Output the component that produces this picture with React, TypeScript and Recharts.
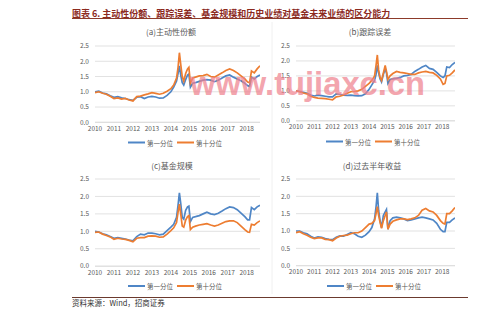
import React from 'react';
import { LineChart, Line, XAxis, YAxis, CartesianGrid } from 'recharts';

const dates = [
  2010.0, 2010.2, 2010.4, 2010.6, 2010.8, 2011.0, 2011.2, 2011.4, 2011.6, 2011.8,
  2012.0, 2012.2, 2012.4, 2012.6, 2012.8, 2013.0, 2013.2, 2013.4, 2013.6, 2013.8,
  2014.0, 2014.15, 2014.3, 2014.38, 2014.45, 2014.52, 2014.6, 2014.68, 2014.78, 2014.88,
  2014.95, 2015.03, 2015.15, 2015.3, 2015.5, 2015.7, 2015.9, 2016.1, 2016.3, 2016.5,
  2016.7, 2016.9, 2017.1, 2017.3, 2017.5, 2017.7, 2017.9, 2018.05, 2018.15, 2018.25,
  2018.4, 2018.55, 2018.7,
];

const aFirst = [
  1.0, 1.02, 0.96, 0.93, 0.87, 0.82, 0.84, 0.8, 0.78, 0.74,
  0.72, 0.82, 0.84, 0.78, 0.83, 0.85, 0.83, 0.79, 0.8, 0.88,
  1.0, 1.15, 1.35, 1.6, 1.85, 1.55, 1.3, 1.22, 1.4, 1.55,
  1.58, 1.15, 1.28, 1.3, 1.34, 1.38, 1.4, 1.38, 1.33, 1.38,
  1.45, 1.52, 1.55, 1.48, 1.42, 1.36, 1.28, 1.2, 1.18, 1.48,
  1.42, 1.5, 1.55,
];
const aTenth = [
  0.97, 1.0, 0.95, 0.92, 0.85, 0.78, 0.8, 0.76, 0.78, 0.73,
  0.7, 0.84, 0.86, 0.9, 0.93, 0.97, 0.95, 0.92, 0.95, 1.02,
  1.1, 1.22, 1.45, 1.8, 2.28, 1.9, 1.5, 1.35, 1.6, 1.75,
  1.8, 1.28, 1.45, 1.48, 1.52, 1.53, 1.57, 1.5, 1.48, 1.55,
  1.62, 1.7, 1.75, 1.7, 1.62, 1.52, 1.42, 1.32, 1.3, 1.68,
  1.62, 1.75, 1.85,
];
const bFirst = [
  1.0, 0.98, 0.95, 0.92, 0.86, 0.83, 0.86, 0.84, 0.82, 0.8,
  0.8, 0.9, 0.88, 0.86, 0.85, 0.86, 0.84, 0.83, 0.84, 0.9,
  1.05, 1.2, 1.35, 1.55, 1.85, 1.6, 1.4, 1.3, 1.55, 1.75,
  1.6, 1.25, 1.38, 1.4, 1.42, 1.45, 1.5, 1.52, 1.55, 1.65,
  1.72, 1.8, 1.85, 1.75, 1.72, 1.62, 1.5, 1.45, 1.5, 1.8,
  1.78, 1.88, 1.95,
];
const bTenth = [
  1.0, 0.97, 0.93, 0.9, 0.82, 0.78, 0.76, 0.75, 0.74, 0.72,
  0.7, 0.8, 0.82, 0.86, 0.92, 0.97, 0.98, 1.0, 1.05, 1.15,
  1.25, 1.35, 1.5, 1.85, 2.2, 1.7, 1.45, 1.35, 1.6, 1.85,
  1.65, 1.38, 1.5, 1.58, 1.65, 1.62, 1.6, 1.58, 1.55, 1.55,
  1.6, 1.63, 1.65, 1.62, 1.6, 1.52, 1.4, 1.22, 1.25, 1.5,
  1.52, 1.6, 1.7,
];
const cFirst = [
  1.0, 0.98, 0.93, 0.9, 0.85, 0.8, 0.82, 0.8, 0.78, 0.75,
  0.73, 0.85, 0.92, 0.9, 0.95, 0.95, 0.93, 0.9, 0.92, 1.02,
  1.12, 1.2, 1.4, 1.75, 2.1, 1.8, 1.4, 1.35, 1.6, 1.7,
  1.72, 1.28, 1.4, 1.42, 1.45, 1.5, 1.55, 1.5, 1.48, 1.52,
  1.58, 1.65, 1.7, 1.68, 1.62, 1.52, 1.42, 1.33, 1.33, 1.68,
  1.62, 1.7, 1.75,
];
const cTenth = [
  0.97, 0.98, 0.92, 0.88, 0.84, 0.77, 0.8, 0.78, 0.77, 0.74,
  0.7, 0.8, 0.82, 0.82, 0.86, 0.87, 0.86, 0.83, 0.84, 0.92,
  1.02, 1.1, 1.25, 1.55, 1.78, 1.5, 1.15, 1.12, 1.32, 1.42,
  1.45, 1.05, 1.12, 1.15, 1.18, 1.2, 1.22, 1.18, 1.15, 1.18,
  1.23, 1.28, 1.3, 1.3, 1.25, 1.15, 1.05, 0.98, 0.97, 1.2,
  1.18, 1.25, 1.3,
];
const dFirst = [
  1.0, 1.0, 0.95, 0.92, 0.85, 0.8, 0.83, 0.82, 0.78, 0.76,
  0.75, 0.82, 0.86, 0.85, 0.9, 0.95, 0.92, 0.85, 0.82, 0.88,
  0.98, 1.1, 1.35, 1.7, 2.1, 1.6, 1.3, 1.1, 1.45, 1.55,
  1.62, 1.05, 1.3, 1.38, 1.4, 1.38, 1.35, 1.3, 1.32, 1.35,
  1.38, 1.4, 1.38, 1.35, 1.32, 1.22, 1.05, 0.98, 0.98, 1.25,
  1.25, 1.32, 1.38,
];
const dTenth = [
  0.95, 0.98, 0.92, 0.88, 0.82, 0.78, 0.8, 0.8, 0.76, 0.75,
  0.72, 0.8, 0.85, 0.87, 0.88, 0.92, 0.95, 0.95, 1.0, 1.1,
  1.2, 1.22, 1.3, 1.5, 1.7, 1.45, 1.25, 1.08, 1.3, 1.45,
  1.55, 1.05, 1.2, 1.28, 1.32, 1.35, 1.35, 1.33, 1.35, 1.38,
  1.45, 1.6, 1.65, 1.58, 1.55, 1.45, 1.3, 1.22, 1.2, 1.5,
  1.5, 1.58, 1.68,
];

const xTicks = [2010, 2011, 2012, 2013, 2014, 2015, 2016, 2017, 2018];
const yTicks = [0, 0.5, 1, 1.5, 2, 2.5];
const seriesNames = ['第一分位', '第十分位'];
const panelTitles = ['(a)主动性份额', '(b)跟踪误差', '(c)基金规模', '(d)过去半年收益'];
const headerText = '图表 6.  主动性份额、跟踪误差、基金规模和历史业绩对基金未来业绩的区分能力';
const sourceText = '资料来源：Wind，招商证券';
const watermarkText = 'www.tujiaxc.cn';

const BLUE = '#4f86c6';
const ORANGE = '#ed7d31';
const GRID = '#d9d9d9';
const TXT = '#595959';
const FONT = '"Noto Sans CJK SC", "Noto Sans", sans-serif';

type PanelProps = {
  px0: number; py0: number; px1: number; py1: number;
  first: number[]; tenth: number[];
};

function Panel({ px0, py0, px1, py1, first, tenth }: PanelProps) {
  const ml = 40, mt = 5, mr = 5, xh = 16;
  const width = px1 - px0 + ml + mr;
  const height = py1 - py0 + mt + xh;
  const data = dates.map((t, i) => ({ t, first: first[i], tenth: tenth[i] }));
  return (
    <div style={{ position: 'absolute', left: px0 - ml, top: py0 - mt, width, height }}>
      <LineChart width={width} height={height} data={data}
        margin={{ top: mt, right: mr, left: 0, bottom: 0 }}>
        <CartesianGrid vertical={false} stroke={GRID} strokeWidth={0.8} />
        <XAxis type="number" dataKey="t" domain={[2010, 2018.7]} ticks={xTicks}
          allowDataOverflow height={xh} tickLine={false} tickSize={0} tickMargin={4}
          axisLine={{ stroke: GRID, strokeWidth: 0.8 }} interval={0}
          tick={{ fontSize: 6.5, fill: TXT, fontFamily: FONT }} />
        <YAxis type="number" domain={[0, 2.5]} ticks={yTicks} width={ml}
          axisLine={false} tickLine={false} tickSize={0} tickMargin={6}
          tickFormatter={(v: number) => v.toFixed(1)} interval={0}
          tick={{ fontSize: 6.5, fill: TXT, fontFamily: FONT }} />
        <Line type="linear" dataKey="first" stroke={BLUE} strokeWidth={1.7}
          dot={false} isAnimationActive={false} />
        <Line type="linear" dataKey="tenth" stroke={ORANGE} strokeWidth={1.7}
          dot={false} isAnimationActive={false} />
      </LineChart>
    </div>
  );
}

function Legend({ x, y }: { x: number; y: number }) {
  return (
    <g>
      <line x1={x} x2={x + 17} y1={y} y2={y} stroke={BLUE} strokeWidth={2} />
      <text x={x + 19} y={y} fontSize={6.5} fill={TXT} dominantBaseline="central" fontFamily={FONT}>{seriesNames[0]}</text>
      <line x1={x + 49} x2={x + 66} y1={y} y2={y} stroke={ORANGE} strokeWidth={2} />
      <text x={x + 68} y={y} fontSize={6.5} fill={TXT} dominantBaseline="central" fontFamily={FONT}>{seriesNames[1]}</text>
    </g>
  );
}

export default function App() {
  return (
    <div style={{ position: 'absolute', left: 0, top: 0, width: 500, height: 316, background: '#fff', overflow: 'hidden' }}>
      <svg width={500} height={316} style={{ position: 'absolute', left: 0, top: 0 }}>
        <line x1={272} x2={272} y1={22} y2={294} stroke="#f0f0f0" strokeWidth={1} />
      </svg>
      <Panel px0={95} py0={45.7} px1={260} py1={122} first={aFirst} tenth={aTenth} />
      <Panel px0={296} py0={45.7} px1={455} py1={120.5} first={bFirst} tenth={bTenth} />
      <Panel px0={95} py0={179.3} px1={260} py1={266.5} first={cFirst} tenth={cTenth} />
      <Panel px0={296} py0={179} px1={455} py1={265.7} first={dFirst} tenth={dTenth} />
      <svg width={500} height={316} style={{ position: 'absolute', left: 0, top: 0, pointerEvents: 'none' }}>
        <text x={72} y={13} fontSize={9} fontWeight="bold" fill="#8c2a1e" dominantBaseline="central" fontFamily={FONT}>{headerText}</text>
        <line x1={72} x2={468} y1={18.5} y2={18.5} stroke="#8c3a2a" strokeWidth={1} />
        <text x={171} y={31} fontSize={8} fill={TXT} textAnchor="middle" dominantBaseline="central" fontFamily={FONT}>{panelTitles[0]}</text>
        <text x={370} y={31} fontSize={8} fill={TXT} textAnchor="middle" dominantBaseline="central" fontFamily={FONT}>{panelTitles[1]}</text>
        <text x={172} y={165} fontSize={8} fill={TXT} textAnchor="middle" dominantBaseline="central" fontFamily={FONT}>{panelTitles[2]}</text>
        <text x={372} y={165} fontSize={8} fill={TXT} textAnchor="middle" dominantBaseline="central" fontFamily={FONT}>{panelTitles[3]}</text>
        <Legend x={128} y={142.5} />
        <Legend x={326} y={141.5} />
        <Legend x={128} y={286} />
        <Legend x={327} y={286} />
        <line x1={72} x2={468} y1={297.5} y2={297.5} stroke="#6b3a2e" strokeWidth={1} />
        <text x={72} y={302.5} fontSize={7.5} fill="#333" dominantBaseline="central" fontFamily={FONT}>{sourceText}</text>
        <text x={190} y={95} fontSize={34} fontWeight="bold" fill="#ee7f8c" opacity={0.7}
          textLength={235} lengthAdjust="spacingAndGlyphs" fontFamily='"Liberation Sans", Arial, sans-serif'>{watermarkText}</text>
      </svg>
    </div>
  );
}
